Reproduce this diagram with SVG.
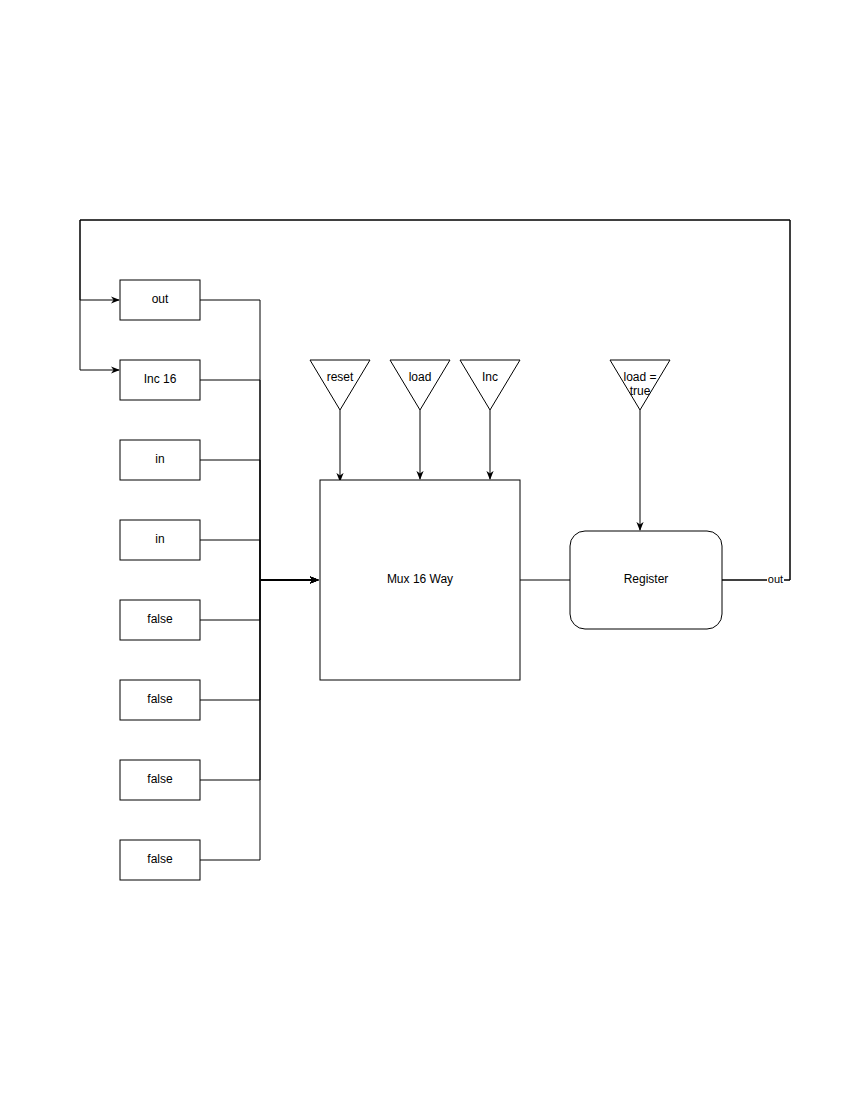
<svg xmlns="http://www.w3.org/2000/svg" width="850" height="1100" viewBox="0 0 850 1100">
<style>
.n{fill:#fff;stroke:#000;stroke-width:1}
.t{font-family:"Liberation Sans",Arial,sans-serif;font-size:12px;text-anchor:middle;fill:#000}
.c{fill:none;stroke:#000;stroke-width:1}
</style>
<defs>
<marker id="a" viewBox="0 0 10 10" refX="9" refY="5" markerWidth="9" markerHeight="9" markerUnits="userSpaceOnUse" orient="auto">
<path d="M0,1 L10,5 L0,9 L3,5 Z" fill="#000"/>
</marker>
</defs>
<rect width="850" height="1100" fill="#fff"/>
<g id="connectors">
<path class="c" d="M200,300 H260 V580 H318" marker-end="url(#a)"/>
<path class="c" d="M200,380 H260 V580 H318" marker-end="url(#a)"/>
<path class="c" d="M200,460 H260 V580 H318" marker-end="url(#a)"/>
<path class="c" d="M200,540 H260 V580 H318" marker-end="url(#a)"/>
<path class="c" d="M200,620 H260 V580 H318" marker-end="url(#a)"/>
<path class="c" d="M200,700 H260 V580 H318" marker-end="url(#a)"/>
<path class="c" d="M200,780 H260 V580 H318" marker-end="url(#a)"/>
<path class="c" d="M200,860 H260 V580 H318" marker-end="url(#a)"/>
<path class="c" d="M340,410 V481" marker-end="url(#a)"/>
<path class="c" d="M420,410 V479" marker-end="url(#a)"/>
<path class="c" d="M490,410 V479" marker-end="url(#a)"/>
<path class="c" d="M640,410 V530" marker-end="url(#a)"/>
<path class="c" d="M520,580 H570"/>
<path class="c" d="M722,580 H790 V220 H80 V300 H119" marker-end="url(#a)"/>
<path class="c" d="M722,580 H790 V220 H80 V370 H119" marker-end="url(#a)"/>
<rect x="767" y="573" width="17" height="12" fill="#fff"/>
<text x="775.5" y="582.5" style="font-family:'Liberation Sans',Arial,sans-serif;font-size:11px;text-anchor:middle">out</text>
</g>
<g id="box-out"><rect class="n" x="120" y="280" width="80" height="40"/><text class="t" x="160" y="303">out</text></g>
<g id="box-inc16"><rect class="n" x="120" y="360" width="80" height="40"/><text class="t" x="160" y="383">Inc 16</text></g>
<g id="box-in1"><rect class="n" x="120" y="440" width="80" height="40"/><text class="t" x="160" y="463">in</text></g>
<g id="box-in2"><rect class="n" x="120" y="520" width="80" height="40"/><text class="t" x="160" y="543">in</text></g>
<g id="box-false1"><rect class="n" x="120" y="600" width="80" height="40"/><text class="t" x="160" y="623">false</text></g>
<g id="box-false2"><rect class="n" x="120" y="680" width="80" height="40"/><text class="t" x="160" y="703">false</text></g>
<g id="box-false3"><rect class="n" x="120" y="760" width="80" height="40"/><text class="t" x="160" y="783">false</text></g>
<g id="box-false4"><rect class="n" x="120" y="840" width="80" height="40"/><text class="t" x="160" y="863">false</text></g>
<g id="tri-reset"><polygon class="n" points="310,360 370,360 340,410"/><text class="t" x="340" y="381">reset</text></g>
<g id="tri-load"><polygon class="n" points="390,360 450,360 420,410"/><text class="t" x="420" y="381">load</text></g>
<g id="tri-inc"><polygon class="n" points="460,360 520,360 490,410"/><text class="t" x="490" y="381">Inc</text></g>
<g id="tri-loadtrue"><polygon class="n" points="610,360 670,360 640,410"/><text class="t" x="640" y="381">load =</text><text class="t" x="640" y="395">true</text></g>
<g id="mux"><rect class="n" x="320" y="480" width="200" height="200"/><text class="t" x="420" y="583">Mux 16 Way</text></g>
<g id="register"><rect class="n" x="570" y="531" width="152" height="98" rx="15" ry="15"/><text class="t" x="646" y="583">Register</text></g>
</svg>
